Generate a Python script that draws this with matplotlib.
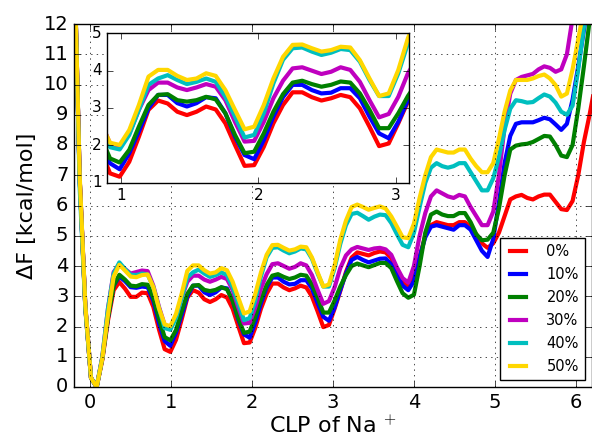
import numpy as np
import matplotlib
matplotlib.use('Agg')
import matplotlib.pyplot as plt

# CLP grid (step of 0.07 starting at -0.2)
clp = np.round(-0.2 + 0.07 * np.arange(93), 2)

labels = ['0%', '10%', '20%', '30%', '40%', '50%']
colors = ['r', 'b', 'g', 'm', 'c', '#FFD700']

f0 = [14.5, 6.9, 2.6, 0.3, 0.0, 0.9, 2.2, 3.2, 3.47, 3.25,
      2.98, 2.98, 3.12, 3.1, 2.65, 1.9, 1.25, 1.16, 1.56, 2.23,
      2.95, 3.20, 3.12, 2.90, 2.81, 2.90, 3.04, 2.96, 2.59, 2.01,
      1.45, 1.47, 1.96, 2.59, 3.08, 3.42, 3.42, 3.29, 3.20, 3.26,
      3.35, 3.29, 2.99, 2.50, 1.98, 2.05, 2.59, 3.17, 3.8, 4.28,
      4.45, 4.4, 4.35, 4.43, 4.48, 4.45, 4.26, 3.85, 3.5, 3.35,
      3.65, 4.3, 5.0, 5.35, 5.45, 5.4, 5.35, 5.35, 5.45, 5.45,
      5.3, 5.05, 4.75, 4.6, 4.75, 5.1, 5.65, 6.2, 6.3, 6.35,
      6.25, 6.2, 6.3, 6.36, 6.36, 6.12, 5.88, 5.85, 6.15, 7.0,
      8.1, 9.0, 10.0]
f10 = [14.5, 6.9, 2.65, 0.3, 0.0, 0.95, 2.3, 3.35, 3.65, 3.5,
       3.3, 3.28, 3.32, 3.3, 2.85, 2.1, 1.52, 1.36, 1.79, 2.37,
       2.99, 3.35, 3.35, 3.13, 3.04, 3.13, 3.29, 3.26, 2.86, 2.23,
       1.74, 1.63, 2.14, 2.77, 3.29, 3.62, 3.62, 3.48, 3.39, 3.41,
       3.53, 3.53, 3.26, 2.77, 2.32, 2.19, 2.63, 3.21, 3.75, 4.2,
       4.3, 4.2, 4.12, 4.18, 4.24, 4.25, 4.05, 3.7, 3.35, 3.2,
       3.5, 4.3, 4.95, 5.3, 5.35, 5.3, 5.25, 5.2, 5.35, 5.35,
       5.2, 4.85, 4.5, 4.3, 4.9, 6.1, 7.4, 8.3, 8.7, 8.75,
       8.75, 8.75, 8.82, 8.9, 8.85, 8.68, 8.5, 8.7, 9.5, 10.6,
       11.8, 13.0, 14.2]
f20 = [14.5, 6.9, 2.65, 0.3, 0.0, 0.95, 2.3, 3.35, 3.71, 3.55,
       3.35, 3.33, 3.4, 3.38, 2.95, 2.25, 1.65, 1.54, 1.88, 2.50,
       3.08, 3.35, 3.37, 3.21, 3.17, 3.21, 3.30, 3.23, 2.86, 2.28,
       1.79, 1.83, 2.32, 2.90, 3.37, 3.68, 3.73, 3.64, 3.57, 3.62,
       3.71, 3.68, 3.39, 2.95, 2.46, 2.46, 2.86, 3.32, 3.7, 4.0,
       4.08, 4.02, 3.96, 4.03, 4.1, 4.1, 3.93, 3.5, 3.1, 2.95,
       3.05, 4.0, 5.1, 5.7, 5.8, 5.7, 5.65, 5.65, 5.75, 5.75,
       5.45, 5.05, 4.85, 4.87, 5.1, 5.9, 7.0, 7.85, 7.98, 8.02,
       8.04, 8.1, 8.2, 8.3, 8.28, 8.0, 7.65, 7.6, 8.0, 9.2,
       10.6, 12.1, 13.5]
f30 = [14.5, 6.9, 2.7, 0.3, 0.0, 1.0, 2.6, 3.8, 4.05, 3.9,
       3.75, 3.8, 3.85, 3.83, 3.35, 2.65, 2.05, 1.96, 2.32, 2.95,
       3.48, 3.68, 3.68, 3.55, 3.48, 3.55, 3.64, 3.57, 3.21, 2.63,
       2.10, 2.12, 2.63, 3.26, 3.73, 4.06, 4.09, 4.00, 3.91, 3.97,
       4.09, 4.02, 3.70, 3.21, 2.75, 2.84, 3.30, 3.93, 4.35, 4.55,
       4.63, 4.58, 4.53, 4.58, 4.6, 4.55, 4.37, 3.95, 3.6, 3.45,
       4.0, 5.0, 5.75, 6.3, 6.5, 6.4, 6.3, 6.25, 6.35, 6.3,
       5.95, 5.65, 5.35, 5.35, 5.8, 7.0, 8.6, 9.7, 10.15, 10.25,
       10.3, 10.35, 10.5, 10.6, 10.55, 10.42, 10.5, 11.0, 12.2, 13.5,
       14.8, 16.0, 17.2]
f40 = [14.5, 6.6, 2.6, 0.3, 0.0, 1.0, 2.6, 3.75, 4.12, 3.9,
       3.71, 3.7, 3.75, 3.72, 3.3, 2.6, 1.95, 1.89, 2.28, 2.95,
       3.62, 3.79, 3.88, 3.75, 3.64, 3.70, 3.79, 3.70, 3.30, 2.77,
       2.21, 2.28, 2.86, 3.66, 4.29, 4.60, 4.62, 4.51, 4.42, 4.48,
       4.58, 4.55, 4.24, 3.75, 3.32, 3.32, 3.93, 4.73, 5.35, 5.72,
       5.76, 5.65, 5.53, 5.63, 5.7, 5.68, 5.42, 5.05, 4.7, 4.62,
       5.1, 5.95, 6.75, 7.25, 7.4, 7.3, 7.25, 7.3, 7.4, 7.4,
       7.1, 6.8, 6.5, 6.5, 6.9, 7.6, 8.5, 9.2, 9.48, 9.45,
       9.4, 9.42, 9.55, 9.67, 9.6, 9.4, 9.1, 9.0, 9.3, 10.5,
       11.9, 13.2, 14.4]
f50 = [14.5, 7.0, 2.7, 0.3, 0.0, 0.95, 2.4, 3.65, 4.04, 3.85,
       3.65, 3.63, 3.7, 3.72, 3.3, 2.6, 2.07, 2.01, 2.41, 3.08,
       3.84, 4.02, 4.02, 3.86, 3.75, 3.79, 3.93, 3.86, 3.48, 2.95,
       2.43, 2.50, 3.08, 3.79, 4.37, 4.69, 4.70, 4.60, 4.51, 4.55,
       4.64, 4.62, 4.28, 3.79, 3.32, 3.39, 4.02, 4.87, 5.5, 5.95,
       6.03, 5.95, 5.86, 5.92, 5.97, 5.9, 5.64, 5.3, 4.95, 4.92,
       5.4, 6.25, 7.0, 7.6, 7.85, 7.8, 7.75, 7.75, 7.85, 7.85,
       7.55, 7.3, 7.1, 7.1, 7.4, 8.2, 9.1, 9.8, 10.15, 10.15,
       10.15, 10.2, 10.28, 10.33, 10.2, 9.98, 9.6, 9.7, 10.5, 11.5,
       12.5, 13.6, 14.7]

series = [f0, f10, f20, f30, f40, f50]

plt.style.use('classic')
plt.rcParams['font.family'] = ['DejaVu Sans']

fig = plt.figure(figsize=(5.92, 4.38), dpi=100, facecolor='white')
ax = fig.add_axes([74/592., 51/438., 518/592., 363/438.])

for i in range(6):
    ax.plot(clp, series[i], color=colors[i], linewidth=3, label=labels[i])

ax.set_xlim(-0.2, 6.2)
ax.set_ylim(0, 12)
ax.set_xticks(range(0, 7))
ax.set_yticks(range(0, 13))
ax.tick_params(labelsize=14)
ax.grid(True)
ax.set_xlabel(r'CLP of Na$\,^+$', fontsize=16, labelpad=2)
ax.set_ylabel('\u0394F [kcal/mol]', fontsize=16)
ax.legend(loc='lower right', fontsize=10.5, handlelength=1.7,
          handletextpad=1.1, labelspacing=0.55)

# zoomed inset
ins = fig.add_axes([107.3/592., 255.3/438., 302/592., 149.4/438.])
for i in range(6):
    ins.plot(clp, series[i], color=colors[i], linewidth=3)
ins.set_xlim(0.9, 3.1)
ins.set_ylim(1, 5)
ins.set_xticks([1, 2, 3])
ins.set_yticks([1, 2, 3, 4, 5])
ins.tick_params(labelsize=11)

fig.savefig('out.png', dpi=100, facecolor='white')
